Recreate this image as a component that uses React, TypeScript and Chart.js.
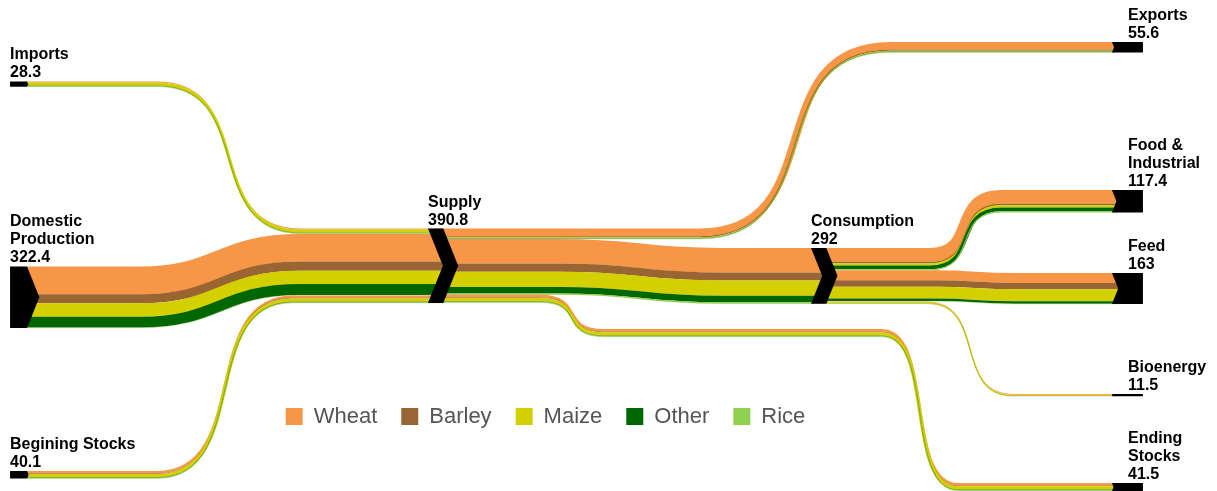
import React, { useEffect, useRef } from 'react';
import { Chart, registerables } from 'chart.js';

Chart.register(...registerables);

// ---------------- DATA ----------------
const CROPS = ['Wheat', 'Barley', 'Maize', 'Other', 'Rice'];
const CROP_COLORS = ['#f79646', '#996633', '#d4d000', '#006600', '#92d050'];

const NODE_NAMES = [
  'Imports',
  'Domestic Production',
  'Begining Stocks',
  'Supply',
  'Consumption',
  'Exports',
  'Food & Industrial',
  'Feed',
  'Bioenergy',
  'Ending Stocks',
];
const NODE_VALUES = [28.3, 322.4, 40.1, 390.8, 292, 55.6, 117.4, 163, 11.5, 41.5];

// per-crop flows, in CROPS order (Wheat, Barley, Maize, Other, Rice)
const IMPORTS_TO_SUPPLY = [5.0, 0.5, 17.0, 2.5, 3.3];
const PRODUCTION_TO_SUPPLY = [145.0, 48.0, 70.0, 57.4, 2.0];
const STOCKS_TO_SUPPLY = [12.0, 4.0, 18.0, 3.0, 3.1];
const SUPPLY_TO_EXPORTS = [40.0, 6.0, 4.0, 3.0, 2.6];
const SUPPLY_TO_CONSUMPTION = [128.0, 42.5, 80.0, 34.0, 7.5];
const SUPPLY_TO_ENDING_STOCKS = [13.0, 4.0, 18.0, 3.0, 3.5];
const CONSUMPTION_TO_FOOD = [72.0, 8.0, 12.0, 20.0, 5.4];
const CONSUMPTION_TO_FEED = [52.0, 34.0, 62.0, 13.0, 2.0];
const CONSUMPTION_TO_BIOENERGY = [4.0, 0.5, 6.0, 1.0, 0.0];

// ---------------- LAYOUT (x in % of plot width, top in value units) ----------------
const NODE_LABEL_LINES = [
  ['Imports'],
  ['Domestic', 'Production'],
  ['Begining Stocks'],
  ['Supply'],
  ['Consumption'],
  ['Exports'],
  ['Food &', 'Industrial'],
  ['Feed'],
  ['Bioenergy'],
  ['Ending', 'Stocks'],
];
const NODE_KIND = ['source', 'source', 'source', 'middle', 'middle', 'sink', 'sink', 'sink', 'sink', 'sink'];
const NODE_X = [0.92, 0.92, 0.92, 39.23, 74.34, 101.92, 101.92, 101.92, 101.92, 101.92];
const NODE_TOP = [427, 1397, 2469, 1198, 1300, 220, 996, 1431, 2066, 2532];
const SOURCE_W = 1.56;
const SINK_W = 2.84;
const CHEVRON_ARM = 1.4;
const SINK_LABEL_SHIFT = 1.47;
const ARROW_RATIO = 0.2;
const STEEP_PULL = 0.4;

type Link = {
  source: number;
  target: number;
  values: number[];
  via: number[];
  bends: { c: number; w: number }[];
};

const LINKS: Link[] = [
  { source: 0, target: 3, values: IMPORTS_TO_SUPPLY, via: [], bends: [{ c: 20.99, w: 13.2 }] },
  { source: 1, target: 3, values: PRODUCTION_TO_SUPPLY, via: [], bends: [{ c: 20.17, w: 14.67 }] },
  { source: 2, target: 3, values: STOCKS_TO_SUPPLY, via: [], bends: [{ c: 20.62, w: 12.4 }] },
  { source: 3, target: 5, values: SUPPLY_TO_EXPORTS, via: [], bends: [{ c: 72.87, w: 17.5 }] },
  { source: 3, target: 4, values: SUPPLY_TO_CONSUMPTION, via: [], bends: [{ c: 58.66, w: 14.67 }] },
  {
    source: 3,
    target: 9,
    values: SUPPLY_TO_ENDING_STOCKS,
    via: [1725],
    bends: [
      { c: 52.43, w: 5.8 },
      { c: 84.3, w: 7.0 },
    ],
  },
  { source: 4, target: 6, values: CONSUMPTION_TO_FOOD, via: [], bends: [{ c: 88.5, w: 6.6 }] },
  { source: 4, target: 7, values: CONSUMPTION_TO_FEED, via: [], bends: [{ c: 89.37, w: 7.33 }] },
  { source: 4, target: 8, values: CONSUMPTION_TO_BIOENERGY, via: [], bends: [{ c: 88.91, w: 7.9 }] },
];

const LABEL_FONT = "bold 16px 'Liberation Sans', Arial, sans-serif";

const sankeyPlugin = {
  id: 'sankeyFlows',
  afterDatasetsDraw(chart: any) {
    const { ctx } = chart;
    const xs = chart.scales.x;
    const ys = chart.scales.y;
    const X = (v: number) => xs.getPixelForValue(v);
    const Y = (v: number) => ys.getPixelForValue(v);
    const K = Math.abs(Y(1) - Y(0));

    const nodeH = (i: number) => NODE_VALUES[i] * K;
    const arrowD = (i: number) => nodeH(i) * ARROW_RATIO;

    const startX = (i: number) => {
      if (NODE_KIND[i] === 'source') return X(NODE_X[i] + SOURCE_W);
      return X(NODE_X[i] + CHEVRON_ARM) - 1;
    };
    const endX = (i: number) => X(NODE_X[i]) + arrowD(i) + 1;

    const outOff = NODE_VALUES.map(() => 0);
    const inOff = NODE_VALUES.map(() => 0);

    ctx.save();
    ctx.lineCap = 'butt';
    ctx.lineJoin = 'round';
    LINKS.forEach((link) => {
      const total = link.values.reduce((a, b) => a + b, 0);
      const srcTop = NODE_TOP[link.source] + outOff[link.source];
      const tgtTop = NODE_TOP[link.target] + inOff[link.target];
      outOff[link.source] += total;
      inOff[link.target] += total;
      const levels = [srcTop, ...link.via, tgtTop];
      const x0 = startX(link.source);
      const x1 = endX(link.target);
      let cum = 0;
      link.values.forEach((v, ci) => {
        const off = cum + v / 2;
        cum += v;
        if (v <= 0) return;
        ctx.beginPath();
        ctx.moveTo(x0, Y(levels[0] + off));
        link.bends.forEach((b, bi) => {
          const ya = Y(levels[bi] + off);
          const yb = Y(levels[bi + 1] + off);
          const c = X(b.c);
          const hw = (X(b.c + b.w) - X(b.c)) / 2;
          const pull = Math.abs(yb - ya) >= hw ? STEEP_PULL * hw : 0;
          ctx.lineTo(c - hw, ya);
          ctx.bezierCurveTo(c + pull, ya, c - pull, yb, c + hw, yb);
        });
        ctx.lineTo(x1, Y(levels[levels.length - 1] + off));
        ctx.lineWidth = v * K;
        ctx.strokeStyle = CROP_COLORS[ci];
        ctx.stroke();
      });
    });

    // nodes
    ctx.fillStyle = '#000';
    NODE_VALUES.forEach((_, i) => {
      const top = Y(NODE_TOP[i]);
      const h = nodeH(i);
      const bot = top + h;
      const mid = top + h / 2;
      const d = arrowD(i);
      const xl = X(NODE_X[i]);
      ctx.beginPath();
      if (NODE_KIND[i] === 'source') {
        const xr = X(NODE_X[i] + SOURCE_W);
        ctx.moveTo(xl, top);
        ctx.lineTo(xr, top);
        ctx.lineTo(xr + d, mid);
        ctx.lineTo(xr, bot);
        ctx.lineTo(xl, bot);
      } else if (NODE_KIND[i] === 'middle') {
        const xr = X(NODE_X[i] + CHEVRON_ARM);
        ctx.moveTo(xl, top);
        ctx.lineTo(xr, top);
        ctx.lineTo(xr + d, mid);
        ctx.lineTo(xr, bot);
        ctx.lineTo(xl, bot);
        ctx.lineTo(xl + d, mid);
      } else {
        const xr = X(NODE_X[i] + SINK_W);
        ctx.moveTo(xl, top);
        ctx.lineTo(xr, top);
        ctx.lineTo(xr, bot);
        ctx.lineTo(xl, bot);
        ctx.lineTo(xl + d, mid);
      }
      ctx.closePath();
      ctx.fill();
    });

    // labels
    ctx.font = LABEL_FONT;
    ctx.fillStyle = '#000';
    ctx.textAlign = 'left';
    ctx.textBaseline = 'alphabetic';
    NODE_VALUES.forEach((val, i) => {
      const lines = [...NODE_LABEL_LINES[i], String(val)];
      const lx = NODE_KIND[i] === 'sink' ? X(NODE_X[i] + SINK_LABEL_SHIFT) : X(NODE_X[i]);
      const base = Y(NODE_TOP[i]) - 4;
      lines.forEach((t, j) => {
        ctx.fillText(t, lx, base - (lines.length - 1 - j) * 18);
      });
    });
    ctx.restore();
  },
};

export default function App() {
  const ref = useRef<HTMLCanvasElement>(null);
  useEffect(() => {
    if (!ref.current) return;
    const chart = new Chart(ref.current, {
      type: 'scatter',
      data: {
        datasets: CROPS.map((c, i) => ({
          label: c,
          data: [],
          backgroundColor: CROP_COLORS[i],
          borderColor: CROP_COLORS[i],
          borderWidth: 0,
        })),
      },
      options: {
        animation: false,
        responsive: true,
        maintainAspectRatio: false,
        events: [],
        layout: { padding: { left: 0, right: 126, top: 0, bottom: 53.5 } },
        scales: {
          x: { type: 'linear', display: false, min: 0, max: 100 },
          y: { type: 'linear', display: false, min: 0, max: 2000, reverse: true },
        },
        plugins: {
          legend: {
            position: 'bottom',
            align: 'center',
            labels: {
              boxWidth: 17,
              boxHeight: 17,
              padding: 24,
              color: '#555',
              font: { family: "'Liberation Sans', Arial, sans-serif", size: 22 },
            },
          },
          tooltip: { enabled: false },
        },
      } as any,
      plugins: [sankeyPlugin],
    });
    return () => chart.destroy();
  }, []);
  return (
    <div style={{ position: 'fixed', left: 0, top: 0, width: 1217, height: 491, background: '#fff' }}>
      <canvas ref={ref} />
    </div>
  );
}
